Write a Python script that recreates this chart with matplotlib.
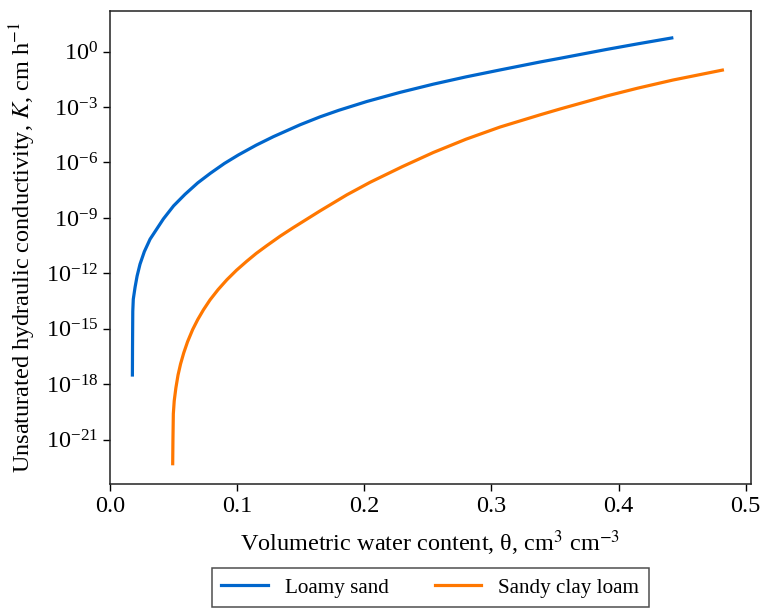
import matplotlib
matplotlib.use("Agg")
import matplotlib.pyplot as plt
from matplotlib.ticker import LogFormatterSciNotation, NullLocator

plt.rcParams['font.family'] = ['Liberation Serif', 'DejaVu Serif']
plt.rcParams['mathtext.fontset'] = 'stix'

# Loamy sand
theta_ls = [0.0176, 0.0177, 0.0178, 0.0179, 0.0183, 0.0197, 0.0213, 0.0236, 0.0270,
            0.0315, 0.0420, 0.0500, 0.0590, 0.0690, 0.0790, 0.0900, 0.1010, 0.1150,
            0.1285, 0.1495, 0.1652, 0.1800, 0.2020, 0.2280, 0.2544, 0.2800, 0.3068,
            0.3383, 0.3541, 0.3908, 0.4150, 0.4419]
K_ls = [3.16e-18, 1.0e-16, 1.0e-15, 8.9e-15, 4.0e-14, 1.78e-13, 7.2e-13, 3.16e-12, 1.51e-11,
        7.1e-11, 8.9e-10, 4.5e-9, 1.9e-8, 7.9e-8, 2.63e-7, 8.9e-7, 2.57e-6, 8.7e-6,
        2.5e-5, 1.1e-4, 2.95e-4, 6.7e-4, 2.0e-3, 6.2e-3, 1.74e-2, 4.3e-2, 0.102,
        0.275, 0.437, 1.32, 2.63, 5.5]

# Sandy clay loam
theta_scl = [0.0493, 0.0495, 0.0498, 0.0505, 0.0518, 0.0535, 0.0555, 0.0580, 0.0610,
             0.0650, 0.0690, 0.0735, 0.0787, 0.0850, 0.0919, 0.0995, 0.1075, 0.1150,
             0.1233, 0.1340, 0.1442, 0.1652, 0.1863, 0.2046, 0.2300, 0.2544, 0.2800,
             0.3068, 0.3383, 0.3541, 0.3908, 0.4150, 0.4428, 0.4817]
K_scl = [5.0e-23, 1.0e-21, 2.5e-20, 1.26e-19, 6.3e-19, 3.16e-18, 1.26e-17, 5.0e-17, 2.0e-16,
         9.1e-16, 3.16e-15, 1.07e-14, 3.7e-14, 1.32e-13, 4.5e-13, 1.48e-12, 4.5e-12, 1.2e-11,
         3.16e-11, 1.05e-10, 3.0e-10, 2.4e-9, 1.78e-8, 8.5e-8, 6.0e-7, 3.5e-6, 1.82e-5,
         8.3e-5, 3.8e-4, 7.9e-4, 4.0e-3, 1.05e-2, 2.9e-2, 0.1]

series_names = ["Loamy sand", "Sandy clay loam"]
x_ticks = [0.0, 0.1, 0.2, 0.3, 0.4, 0.5]
y_ticks = [1e-21, 1e-18, 1e-15, 1e-12, 1e-9, 1e-6, 1e-3, 1e0]

fig = plt.figure(figsize=(7.63, 6.13), dpi=100)
ax = fig.add_axes([0.1442, 0.2104, 0.8397, 0.7717])

ax.plot(theta_ls, K_ls, color='#0066cc', lw=2.3, label=series_names[0],
        solid_joinstyle='round')
ax.plot(theta_scl, K_scl, color='#ff7700', lw=2.3, label=series_names[1],
        solid_joinstyle='round')

ax.set_yscale('log')
ax.set_xlim(0, 0.504)
ax.set_ylim(10**-23.4, 10**2.2)
ax.set_xticks(x_ticks)
ax.set_xticklabels([f"{v:.1f}" for v in x_ticks])
ax.set_yticks(y_ticks)
ax.yaxis.set_major_formatter(LogFormatterSciNotation())
ax.yaxis.set_minor_locator(NullLocator())

for s in ax.spines.values():
    s.set_linewidth(1.1)
    s.set_color('#222222')
ax.tick_params(axis='both', which='major', labelsize=17.5, length=5, width=1.0, direction='out')

ax.set_xlabel(r"Volumetric water content, θ, cm$^3$ cm$^{-3}$", fontsize=17.5, labelpad=8)
ax.set_ylabel(r"Unsaturated hydraulic conductivity, $K$, cm h$^{-1}$", fontsize=17.5, labelpad=6)

leg = ax.legend(loc='upper center', bbox_to_anchor=(0.5, -0.178), ncol=2, fontsize=15.2,
                frameon=True, fancybox=False, edgecolor='#222222', handlelength=2.2,
                columnspacing=2.2, borderpad=0.45, borderaxespad=0)
leg.get_frame().set_linewidth(1.1)

fig.savefig("out.png", dpi=100)
